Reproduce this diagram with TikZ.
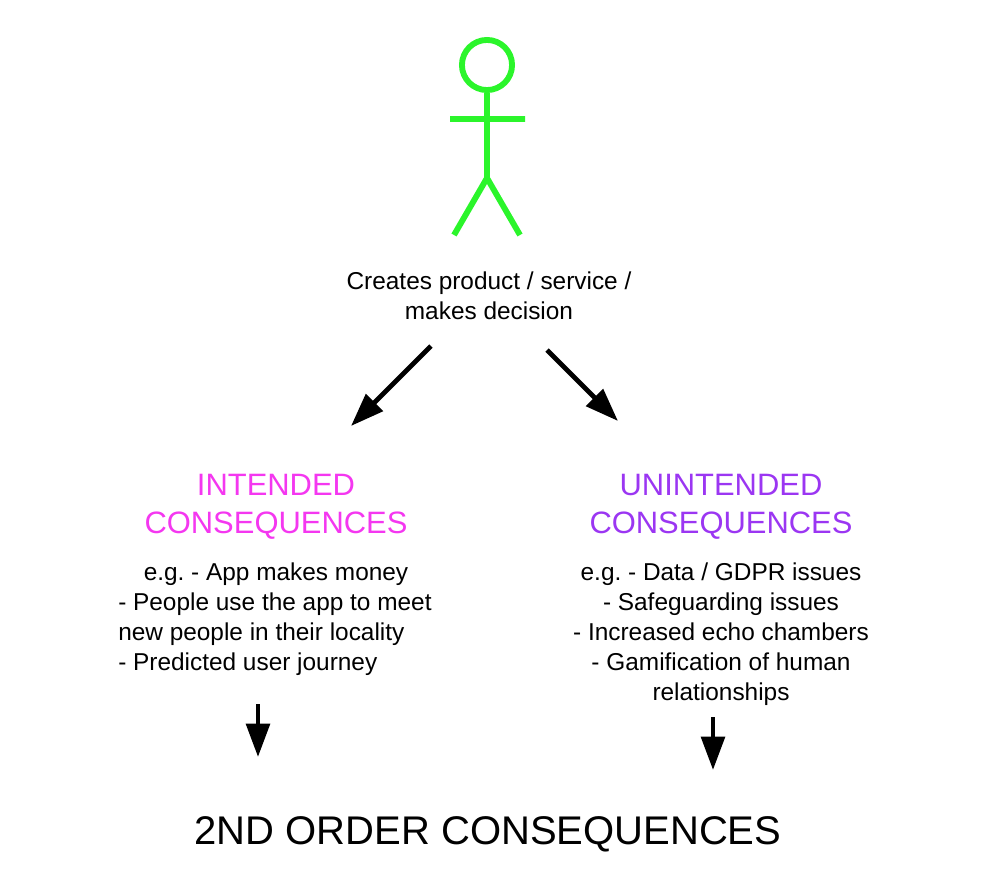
\documentclass[tikz,border=0pt]{standalone}
\usepackage{fontspec}
\setmainfont{Liberation Sans}
\usetikzlibrary{arrows.meta}
\definecolor{figgreen}{HTML}{2BF52B}
\definecolor{intcol}{HTML}{F437F0}
\definecolor{unintcol}{HTML}{9B36F2}
\tikzset{
  txt/.style={inner sep=0pt,align=center,text depth=0pt,font=\frenchspacing\fontsize{18.3}{22.5}\selectfont},
  head/.style={inner sep=0pt,align=center,text depth=0pt,font=\fontsize{23.2}{28}\selectfont},
  limb/.style={figgreen,line width=4.4pt},
  bigarrow/.style={-{Triangle[length=25pt,width=17.5pt]},line width=3.6pt}
}
\begin{document}
\begin{tikzpicture}[x=0.75pt,y=-0.75pt]
\useasboundingbox (0,0) rectangle (990,886);
\draw[limb] (487,65) circle (18.8pt);
\coordinate (neck) at (487,93);
\coordinate (hip) at (487,178);
\coordinate (armL) at (450,119);
\coordinate (armR) at (525,119);
\coordinate (footL) at (454,235);
\coordinate (footR) at (520,235);
\draw[limb] (neck) -- (hip) (armL) -- (armR) (footL) -- (hip) -- (footR);
\node[txt] (maker) at (489,296) {Creates product / service /\\makes decision};
\node[head,text=intcol] (inthead) at (276,504) {INTENDED\\CONSEQUENCES};
\node[head,text=unintcol] (unhead) at (721,504) {UNINTENDED\\CONSEQUENCES};
\node[txt] (intl1) at (276,572) {e.g. - App makes money};
\node[txt,anchor=west] (intl2) at (118,602) {- People use the app to meet};
\node[txt,anchor=west] (intl3) at (118,632) {new people in their locality};
\node[txt,anchor=west] (intl4) at (118,662) {- Predicted user journey};
\node[txt] (unbody) at (721,632) {e.g. - Data / GDPR issues\\- Safeguarding issues\\- Increased echo chambers\\- Gamification of human\\relationships};
\node[inner sep=0pt,text depth=0pt,font=\fontsize{30}{36}\selectfont] (second) at (488,831) {2ND ORDER CONSEQUENCES};
\coordinate (a1s) at (431,346);
\coordinate (a1e) at (351,426);
\coordinate (a2s) at (547,350);
\coordinate (a2e) at (618,421);
\coordinate (a3s) at (258,704);
\coordinate (a3e) at (258,757);
\coordinate (a4s) at (713,717);
\coordinate (a4e) at (713,770);
\draw[bigarrow] (a1s) -- (a1e);
\draw[bigarrow] (a2s) -- (a2e);
\draw[bigarrow] (a3s) -- (a3e);
\draw[bigarrow] (a4s) -- (a4e);
\end{tikzpicture}
\end{document}
